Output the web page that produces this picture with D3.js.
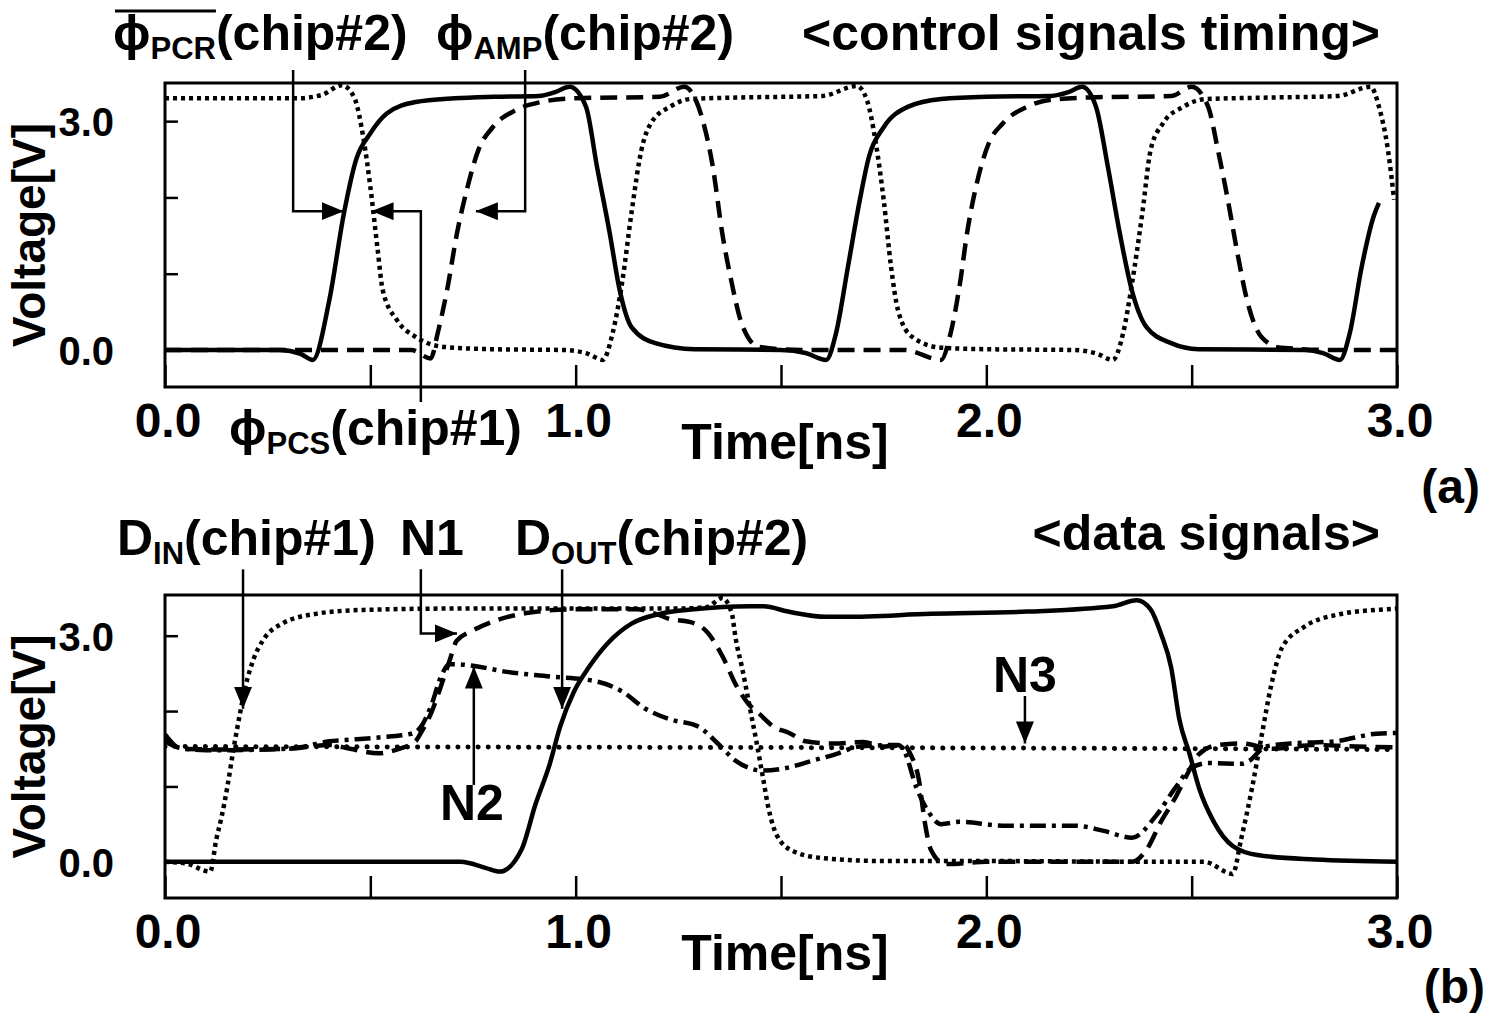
<!DOCTYPE html>
<html>
<head>
<meta charset="utf-8">
<script src="https://cdn.jsdelivr.net/npm/d3@7"></script>
<style>
  body { margin: 0; background: #fff; }
  svg text { font-family: "Liberation Sans", Arial, sans-serif; font-weight: bold; fill: #000; }
</style>
</head>
<body>
<div id="chart"></div>
<script>
// ---------- data (time in ns, voltage in V) ----------
const xTickValues = [0, 0.5, 1, 1.5, 2, 2.5, 3];
const xLabelValues = [0, 1, 2, 3];
const yTickValues = [0, 1, 2, 3];
const yLabelValues = [0, 3];

// (a) control signals
const pcrT = [0, 0.28, 0.33, 0.36, 0.40, 0.436, 0.465, 0.50, 0.54, 0.61, 0.705, 0.80, 0.91, 0.95, 0.985, 1.025, 1.052, 1.083, 1.107, 1.136, 1.194, 1.29, 1.50, 1.56, 1.61, 1.634, 1.663, 1.692, 1.714, 1.75, 1.81, 1.89, 2.0, 2.157, 2.20, 2.233, 2.267, 2.296, 2.325, 2.354, 2.39, 2.45, 2.517, 2.775, 2.82, 2.861, 2.885, 2.914, 2.943, 2.956];
const pcrV = [0, 0, -0.05, -0.13, 0.65, 1.8, 2.49, 2.84, 3.1, 3.25, 3.3, 3.32, 3.33, 3.38, 3.45, 3.19, 2.4, 1.53, 0.79, 0.3, 0.09, 0.01, 0, -0.04, -0.13, 0.22, 1.09, 1.97, 2.53, 2.92, 3.19, 3.29, 3.32, 3.33, 3.38, 3.45, 3.19, 2.4, 1.53, 0.79, 0.3, 0.09, 0.01, 0, -0.04, -0.13, 0.22, 1.09, 1.75, 1.93];

const pcsT = [0, 0.32, 0.38, 0.431, 0.46, 0.484, 0.50, 0.518, 0.53, 0.565, 0.611, 0.68, 0.80, 0.97, 1.03, 1.066, 1.09, 1.113, 1.136, 1.16, 1.183, 1.23, 1.28, 1.40, 1.60, 1.685, 1.709, 1.731, 1.75, 1.768, 1.785, 1.82, 1.89, 2.0, 2.216, 2.27, 2.308, 2.333, 2.355, 2.38, 2.40, 2.43, 2.48, 2.535, 2.70, 2.856, 2.936, 2.956, 2.978, 2.993];
const pcsV = [3.3, 3.3, 3.34, 3.47, 3.32, 2.75, 2.14, 1.31, 0.79, 0.39, 0.17, 0.04, 0.01, 0, -0.05, -0.13, 0.22, 0.88, 1.8, 2.62, 2.97, 3.19, 3.29, 3.31, 3.33, 3.46, 3.28, 2.71, 1.97, 1.09, 0.52, 0.17, 0.03, 0.01, 0, -0.05, -0.13, 0.22, 0.88, 1.8, 2.62, 2.97, 3.19, 3.29, 3.31, 3.33, 3.45, 3.19, 2.62, 1.97];

const ampT = [0, 0.60, 0.647, 0.664, 0.687, 0.711, 0.735, 0.763, 0.798, 0.856, 0.915, 1.0, 1.205, 1.264, 1.31, 1.334, 1.357, 1.38, 1.404, 1.446, 1.55, 1.80, 1.89, 1.913, 1.936, 1.953, 1.977, 2.006, 2.04, 2.1, 2.157, 2.25, 2.45, 2.50, 2.54, 2.564, 2.588, 2.61, 2.635, 2.67, 2.717, 2.85, 3.0];
const ampV = [0, 0, -0.11, 0.22, 0.79, 1.53, 2.1, 2.62, 2.92, 3.15, 3.25, 3.3, 3.32, 3.45, 3.0, 2.4, 1.53, 0.88, 0.35, 0.04, 0, 0, -0.13, 0.22, 0.88, 1.53, 2.19, 2.71, 2.97, 3.19, 3.28, 3.31, 3.33, 3.45, 3.19, 2.62, 1.97, 1.31, 0.65, 0.17, 0.03, 0, 0];

// (b) data signals
const dinT = [0, 0.05, 0.11, 0.125, 0.138, 0.152, 0.167, 0.182, 0.197, 0.215, 0.24, 0.285, 0.367, 0.472, 0.7, 1.0, 1.25, 1.32, 1.357, 1.38, 1.39, 1.405, 1.424, 1.44, 1.455, 1.47, 1.49, 1.53, 1.6, 1.75, 2.0, 2.45, 2.53, 2.60, 2.62, 2.647, 2.67, 2.694, 2.72, 2.775, 2.856, 2.97, 3.0];
const dinV = [0, -0.02, -0.13, 0.3, 0.6, 1.0, 1.5, 1.95, 2.35, 2.68, 2.95, 3.16, 3.29, 3.34, 3.36, 3.36, 3.36, 3.38, 3.5, 3.3, 2.95, 2.58, 2.05, 1.6, 1.15, 0.7, 0.35, 0.14, 0.05, 0.01, 0.01, 0, 0, -0.16, 0.29, 0.98, 1.66, 2.35, 2.84, 3.12, 3.28, 3.35, 3.36];

const n1T = [0, 0.04, 0.15, 0.3, 0.4, 0.45, 0.52, 0.57, 0.61, 0.623, 0.65, 0.67, 0.693, 0.71, 0.75, 0.81, 0.88, 0.996, 1.15, 1.19, 1.23, 1.28, 1.32, 1.36, 1.39, 1.42, 1.45, 1.48, 1.52, 1.56, 1.63, 1.7, 1.75, 1.8, 1.815, 1.836, 1.85, 1.865, 1.9, 2.0, 2.355, 2.39, 2.425, 2.46, 2.49, 2.518, 2.564, 2.62, 2.7, 2.8, 2.9, 3.0];
const n1V = [1.69, 1.5, 1.49, 1.5, 1.55, 1.5, 1.44, 1.5, 1.6, 1.71, 2.0, 2.3, 2.67, 2.93, 3.07, 3.21, 3.3, 3.35, 3.35, 3.3, 3.22, 3.18, 3.05, 2.7, 2.35, 2.1, 1.95, 1.8, 1.71, 1.6, 1.57, 1.59, 1.53, 1.55, 1.43, 1.08, 0.53, 0.16, -0.03, 0, 0, 0.16, 0.53, 0.85, 1.17, 1.43, 1.55, 1.57, 1.5, 1.55, 1.53, 1.52];

const n2T = [0, 0.03, 0.1, 0.25, 0.33, 0.40, 0.45, 0.52, 0.60, 0.623, 0.65, 0.67, 0.693, 0.715, 0.75, 0.833, 0.937, 1.054, 1.113, 1.17, 1.23, 1.3, 1.346, 1.39, 1.457, 1.517, 1.575, 1.634, 1.69, 1.785, 1.8, 1.83, 1.855, 1.89, 1.935, 2.04, 2.216, 2.286, 2.355, 2.413, 2.46, 2.5, 2.54, 2.62, 2.64, 2.68, 2.74, 2.85, 2.95, 3.0];
const n2V = [1.6, 1.52, 1.48, 1.49, 1.52, 1.6, 1.62, 1.65, 1.7, 1.79, 2.1, 2.43, 2.62, 2.62, 2.6, 2.52, 2.46, 2.39, 2.26, 2.03, 1.89, 1.79, 1.57, 1.34, 1.21, 1.25, 1.34, 1.43, 1.53, 1.55, 1.47, 0.98, 0.7, 0.5, 0.53, 0.48, 0.48, 0.41, 0.32, 0.61, 0.98, 1.25, 1.31, 1.30, 1.34, 1.53, 1.57, 1.6, 1.7, 1.71];

const n3T = [0, 1, 2, 3];
const n3V = [1.53, 1.52, 1.51, 1.49];

const doutT = [0, 0.72, 0.78, 0.815, 0.868, 0.902, 0.937, 0.962, 0.996, 1.032, 1.078, 1.136, 1.205, 1.288, 1.425, 1.458, 1.517, 1.61, 1.656, 1.865, 2.1, 2.308, 2.366, 2.4, 2.425, 2.45, 2.47, 2.495, 2.518, 2.554, 2.6, 2.66, 2.8, 3.0];
const doutV = [0, 0, -0.08, -0.13, 0.16, 0.76, 1.3, 1.79, 2.26, 2.58, 2.9, 3.16, 3.29, 3.35, 3.39, 3.39, 3.32, 3.25, 3.25, 3.29, 3.32, 3.39, 3.47, 3.35, 3.03, 2.58, 1.89, 1.43, 0.98, 0.53, 0.21, 0.09, 0.03, 0];

// ---------- layout ----------
const width = 1491;
const height = 1017;
const left = 165;
const right = 1397;

const lineStyles = {
  solid:   { dash: null, width: 4.5, cap: 'butt' },
  dot:     { dash: '4,4', width: 4.5, cap: 'butt' },
  dash:    { dash: '17,9', width: 4.5, cap: 'butt' },
  dashDot: { dash: '16,6,4,6', width: 4.5, cap: 'butt' },
  fineDot: { dash: '0.1,10', width: 5, cap: 'round' }
};

const svg = d3.select('#chart')
  .append('svg')
  .attr('width', width)
  .attr('height', height);

svg.append('defs').append('marker')
  .attr('id', 'head')
  .attr('markerUnits', 'userSpaceOnUse')
  .attr('viewBox', '0 0 22 18')
  .attr('markerWidth', 22)
  .attr('markerHeight', 18)
  .attr('refX', 22)
  .attr('refY', 9)
  .attr('orient', 'auto')
  .append('path')
  .attr('d', 'M0,0 L22,9 L0,18 Z')
  .attr('fill', '#000');

function drawPanel(top, bottom, yDomain, clipId) {
  const x = d3.scaleLinear().domain([0, 3]).range([left, right]);
  const y = d3.scaleLinear().domain(yDomain).range([bottom, top]);
  const g = svg.append('g');

  g.append('clipPath').attr('id', clipId)
    .append('rect')
    .attr('x', left).attr('y', top)
    .attr('width', right - left).attr('height', bottom - top);

  // inward ticks
  g.append('g')
    .attr('transform', `translate(0, ${bottom})`)
    .call(d3.axisBottom(x).tickValues(xTickValues).tickSize(-22).tickFormat(''))
    .call(a => a.select('.domain').remove())
    .selectAll('line').attr('stroke', '#000').attr('stroke-width', 2.5);

  g.append('g')
    .attr('transform', `translate(${left}, 0)`)
    .call(d3.axisLeft(y).tickValues(yTickValues).tickSize(-13).tickFormat(''))
    .call(a => a.select('.domain').remove())
    .selectAll('line').attr('stroke', '#000').attr('stroke-width', 2.5);

  g.append('rect')
    .attr('x', left).attr('y', top)
    .attr('width', right - left).attr('height', bottom - top)
    .attr('fill', 'none')
    .attr('stroke', '#000')
    .attr('stroke-width', 3);

  // tick labels
  g.selectAll('text.xl')
    .data(xLabelValues)
    .enter()
    .append('text')
    .attr('class', 'xl')
    .attr('x', d => x(d) + 3)
    .attr('y', bottom + 50)
    .attr('text-anchor', 'middle')
    .style('font-size', '48px')
    .text(d => d.toFixed(1));

  g.selectAll('text.yl')
    .data(yLabelValues)
    .enter()
    .append('text')
    .attr('class', 'yl')
    .attr('x', 114)
    .attr('y', d => y(d) + 15)
    .attr('text-anchor', 'end')
    .style('font-size', '40px')
    .text(d => d.toFixed(1));

  g.append('text')
    .attr('transform', `translate(45, ${(top + bottom) / 2}) rotate(-90)`)
    .attr('text-anchor', 'middle')
    .style('font-size', '46px')
    .text('Voltage[V]');

  g.append('text')
    .attr('x', 785)
    .attr('y', bottom + 72)
    .attr('text-anchor', 'middle')
    .style('font-size', '50px')
    .text('Time[ns]');

  return { x, y, g, clipId };
}

function drawSeries(panel, ts, vs, style) {
  const s = lineStyles[style];
  const pts = ts.map((t, i) => [t, vs[i]]);
  const line = d3.line()
    .x(d => panel.x(d[0]))
    .y(d => panel.y(d[1]))
    .curve(d3.curveMonotoneX);
  panel.g.append('path')
    .datum(pts)
    .attr('clip-path', `url(#${panel.clipId})`)
    .attr('d', line)
    .attr('fill', 'none')
    .attr('stroke', '#000')
    .attr('stroke-width', s.width)
    .attr('stroke-linecap', s.cap)
    .attr('stroke-linejoin', 'round')
    .attr('stroke-dasharray', s.dash);
}

// arrow through points given in (ns, V), head at the last point
function drawArrow(panel, pts) {
  panel.g.append('path')
    .attr('d', d3.line().x(d => panel.x(d[0])).y(d => panel.y(d[1]))(pts))
    .attr('fill', 'none')
    .attr('stroke', '#000')
    .attr('stroke-width', 2.5)
    .attr('marker-end', 'url(#head)');
}

// label with optional subscript and overline
function label(x, y, main, sub, rest, overline) {
  const t = svg.append('text')
    .attr('x', x)
    .attr('y', y)
    .style('font-size', '50px');
  t.append('tspan').text(main);
  if (sub) {
    t.append('tspan').attr('dy', 9).style('font-size', '31px').text(sub);
    t.append('tspan').attr('dy', -9).text(rest);
  }
  if (overline) {
    const bb = t.node().getBBox();
    const w = t.node().getSubStringLength(0, main.length + sub.length);
    svg.append('line')
      .attr('x1', x + 2).attr('x2', x + w)
      .attr('y1', bb.y + 6).attr('y2', bb.y + 6)
      .attr('stroke', '#000').attr('stroke-width', 3);
  }
  return t;
}

// ---------- panel (a) ----------
const pa = drawPanel(83, 387, [-0.485, 3.5], 'clipA');
drawSeries(pa, ampT, ampV, 'dash');
drawSeries(pa, pcsT, pcsV, 'dot');
drawSeries(pa, pcrT, pcrV, 'solid');

drawArrow(pa, [[0.312, 3.67], [0.312, 1.82], [0.435, 1.82]]);
drawArrow(pa, [[0.623, -0.68], [0.623, 1.82], [0.503, 1.82]]);
drawArrow(pa, [[0.877, 3.67], [0.877, 1.82], [0.757, 1.82]]);

label(113, 50, '\u03d5', 'PCR', '(chip#2)', true);
label(436, 50, '\u03d5', 'AMP', '(chip#2)', false);
label(229, 445, '\u03d5', 'PCS', '(chip#1)', false);

svg.append('text')
  .attr('x', 1380).attr('y', 50)
  .attr('text-anchor', 'end')
  .style('font-size', '50px')
  .text('<control signals timing>');

svg.append('text')
  .attr('x', 1480).attr('y', 503)
  .attr('text-anchor', 'end')
  .style('font-size', '48px')
  .text('(a)');

// ---------- panel (b) ----------
const pb = drawPanel(595, 898, [-0.48, 3.54], 'clipB');
drawSeries(pb, n3T, n3V, 'fineDot');
drawSeries(pb, n2T, n2V, 'dashDot');
drawSeries(pb, n1T, n1V, 'dash');
drawSeries(pb, dinT, dinV, 'dot');
drawSeries(pb, doutT, doutV, 'solid');

drawArrow(pb, [[0.19, 3.88], [0.19, 2.03]]);
drawArrow(pb, [[0.623, 3.88], [0.623, 3.03], [0.711, 3.03]]);
drawArrow(pb, [[0.967, 3.88], [0.967, 2.03]]);
drawArrow(pb, [[0.752, 1.02], [0.752, 2.59]]);
drawArrow(pb, [[2.094, 2.2], [2.094, 1.57]]);

label(117, 555, 'D', 'IN', '(chip#1)', false);
label(400, 555, 'N1', '', '', false);
label(515, 555, 'D', 'OUT', '(chip#2)', false);
label(440, 820, 'N2', '', '', false);
label(993, 692, 'N3', '', '', false);

svg.append('text')
  .attr('x', 1380).attr('y', 550)
  .attr('text-anchor', 'end')
  .style('font-size', '50px')
  .text('<data signals>');

svg.append('text')
  .attr('x', 1485).attr('y', 1003)
  .attr('text-anchor', 'end')
  .style('font-size', '48px')
  .text('(b)');
</script>
</body>
</html>
